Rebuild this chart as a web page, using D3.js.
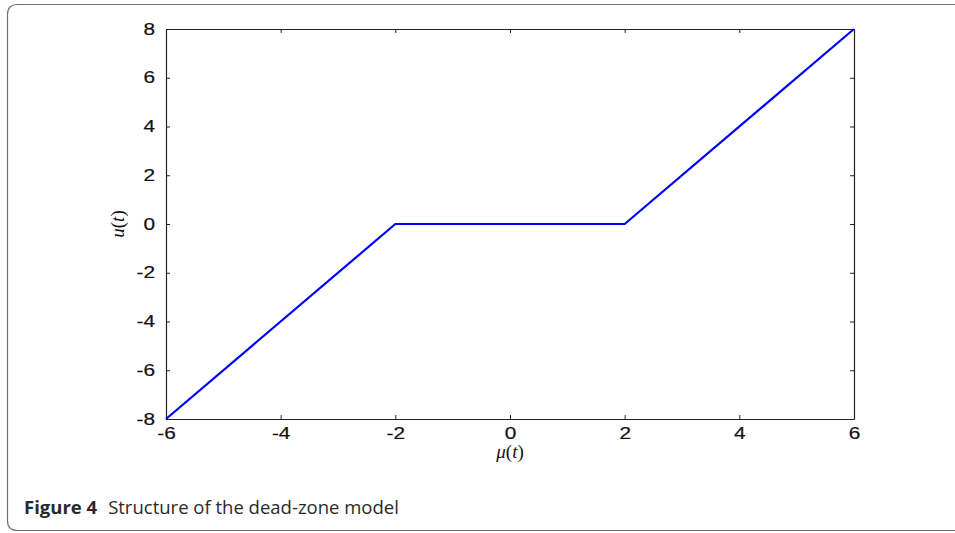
<!DOCTYPE html>
<html>
<head>
<meta charset="utf-8">
<script src="https://cdn.jsdelivr.net/npm/d3@7"></script>
<style>
  html, body { margin: 0; padding: 0; background: #fff; }
  svg { display: block; }
</style>
</head>
<body>
<svg id="chart" width="955" height="533"></svg>
<script>
// Dead-zone characteristic: input μ(t) versus output u(t)
const muValues = [-6, -2, 2, 6];
const uValues = [-8, 0, 0, 8];
const xTicks = [-6, -4, -2, 0, 2, 4, 6];
const yTicks = [-8, -6, -4, -2, 0, 2, 4, 6, 8];

const svg = d3.select("#chart");

// Figure frame, open on the right
svg.append("path")
  .attr("d", "M 965 4.5 L 17.5 4.5 Q 7.5 4.5 7.5 14.5 L 7.5 520.5 Q 7.5 530.5 17.5 530.5 L 965 530.5")
  .attr("fill", "none")
  .attr("stroke", "#6e6e6e")
  .attr("stroke-width", 1.2);

const box = { left: 166, right: 854, top: 29, bottom: 419 };

const x = d3.scaleLinear().domain([-6, 6]).range([box.left, box.right]);
const y = d3.scaleLinear().domain([-8, 8]).range([box.bottom, box.top]);

const tickLen = 4;
const tickFont = "'Liberation Sans', Arial, sans-serif";
const stretch = 1.3; // wide tick-label lettering
const fmt = d => String(d); // plain hyphen-minus

// Axes with inward ticks on all four sides
const bottomAxis = d3.axisBottom(x).tickValues(xTicks).tickSizeInner(-tickLen).tickSizeOuter(0).tickFormat(fmt);
const topAxis = d3.axisTop(x).tickValues(xTicks).tickSizeInner(-tickLen).tickSizeOuter(0).tickFormat("");
const leftAxis = d3.axisLeft(y).tickValues(yTicks).tickSizeInner(-tickLen).tickSizeOuter(0).tickFormat(fmt);
const rightAxis = d3.axisRight(y).tickValues(yTicks).tickSizeInner(-tickLen).tickSizeOuter(0).tickFormat("");

function styleAxis(g) {
  g.select(".domain").attr("stroke", "#222").attr("stroke-width", 1.2);
  g.selectAll(".tick line").attr("stroke", "#222").attr("stroke-width", 1);
  g.selectAll(".tick text")
    .attr("fill", "#111")
    .attr("stroke", "#111")
    .attr("stroke-width", 0.2)
    .style("font-family", tickFont)
    .style("font-size", "16px");
}

const gBottom = svg.append("g").attr("transform", `translate(0,${box.bottom})`).call(bottomAxis).call(styleAxis);
svg.append("g").attr("transform", `translate(0,${box.top})`).call(topAxis).call(styleAxis);
const gLeft = svg.append("g").attr("transform", `translate(${box.left},0)`).call(leftAxis).call(styleAxis);
svg.append("g").attr("transform", `translate(${box.right},0)`).call(rightAxis).call(styleAxis);

gBottom.selectAll(".tick text")
  .attr("y", null).attr("dy", null)
  .attr("transform", `translate(0,20) scale(${stretch},1)`);
gLeft.selectAll(".tick text")
  .attr("x", null)
  .attr("transform", `translate(-11,0) scale(${stretch},1)`);

// Piecewise-linear dead-zone curve
const pts = muValues.map((m, i) => [m, uValues[i]]);
svg.append("path")
  .datum(pts)
  .attr("fill", "none")
  .attr("stroke", "#0000ff")
  .attr("stroke-width", 2.2)
  .attr("stroke-linejoin", "round")
  .attr("d", d3.line().x(d => x(d[0])).y(d => y(d[1])));

// Axis titles in math italic
const mathFont = "'Liberation Serif', 'DejaVu Serif', serif";
const xLabel = svg.append("text")
  .attr("x", (box.left + box.right) / 2)
  .attr("y", 458)
  .attr("text-anchor", "middle")
  .style("font-family", mathFont)
  .style("font-size", "19px")
  .attr("fill", "#111");
xLabel.append("tspan").style("font-style", "italic").text("μ");
xLabel.append("tspan").text("(");
xLabel.append("tspan").style("font-style", "italic").text("t");
xLabel.append("tspan").text(")");

const yLabel = svg.append("text")
  .attr("transform", `translate(124,${(box.top + box.bottom) / 2}) rotate(-90)`)
  .attr("text-anchor", "middle")
  .style("font-family", mathFont)
  .style("font-size", "19px")
  .attr("fill", "#111");
yLabel.append("tspan").style("font-style", "italic").text("u");
yLabel.append("tspan").text("(");
yLabel.append("tspan").style("font-style", "italic").text("t");
yLabel.append("tspan").text(")");

// Caption
const caption = svg.append("text")
  .attr("x", 24)
  .attr("y", 514)
  .style("font-family", "'Open Sans', 'Noto Sans', sans-serif")
  .style("font-size", "18.5px")
  .attr("fill", "#2a2a2a");
caption.append("tspan").style("font-weight", "bold").text("Figure 4");
caption.append("tspan").attr("dx", 11).text("Structure of the dead-zone model");
</script>
</body>
</html>
